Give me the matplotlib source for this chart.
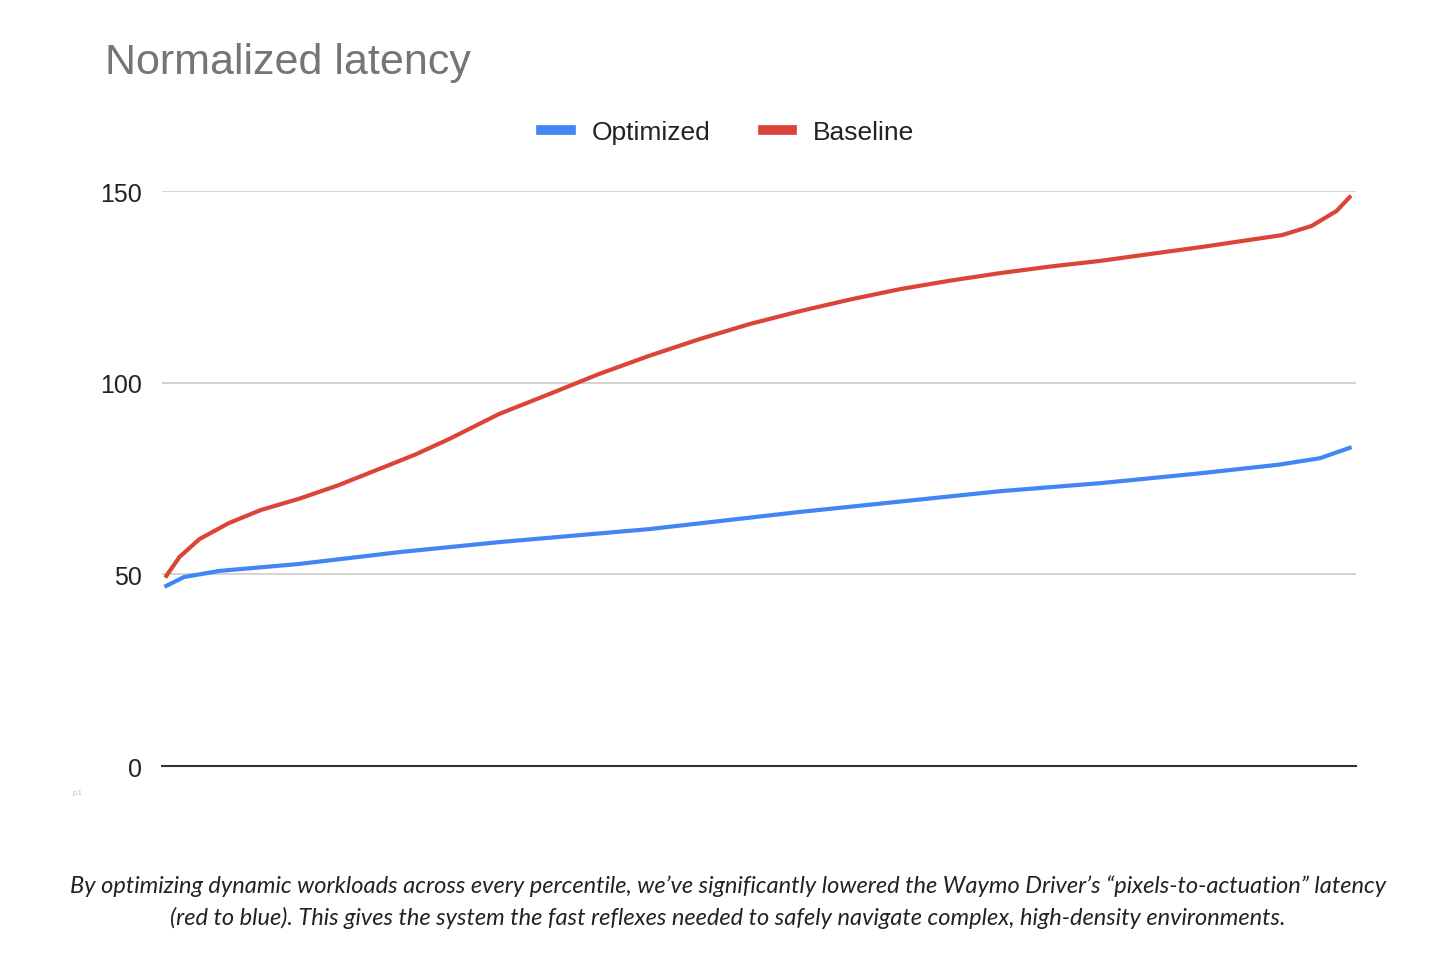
import matplotlib.pyplot as plt

plt.rcParams['font.family'] = ['Liberation Sans', 'DejaVu Sans']

# percentile position (0-100) and normalized latency
red_x = [0, 1.1, 2.8, 5.3, 8.0, 11.2, 14.5, 18.0, 21.0, 23.9, 28.1, 32.5, 36.6, 40.8, 45.1, 49.3, 53.6, 57.8, 62.0, 66.2, 70.5, 74.7, 79.0, 83.2, 87.5, 91.0, 94.3, 96.8, 98.9, 100]
red_y = [49.6, 54.5, 59.2, 63.4, 66.8, 69.7, 73.2, 77.5, 81.2, 85.3, 91.8, 97.2, 102.3, 107.0, 111.4, 115.3, 118.7, 121.7, 124.4, 126.6, 128.6, 130.3, 131.8, 133.6, 135.4, 137.0, 138.5, 140.9, 144.8, 148.4]
blue_x = [0, 1.5, 4.5, 11.2, 19.7, 28.1, 40.8, 53.6, 70.5, 79.0, 87.5, 94.0, 97.5, 100]
blue_y = [47.0, 49.3, 50.9, 52.7, 55.8, 58.4, 61.8, 66.3, 71.7, 73.8, 76.4, 78.6, 80.3, 83.0]

fig = plt.figure(figsize=(14.56, 9.62), dpi=100)
ax = fig.add_axes([0.111, 0.2027, 0.82, 0.5977])
ax.plot(blue_x, blue_y, color='#4285f4', lw=3, label='Optimized')
ax.plot(red_x, red_y, color='#db4437', lw=3, label='Baseline')
ax.set_xlim(-0.4, 100.5)
ax.set_ylim(0, 150)
ax.set_yticks([0, 50, 100, 150])
ax.set_xticks([])
ax.grid(axis='y', color='#cccccc', lw=1.2)
for s in ['top', 'right', 'left']:
    ax.spines[s].set_visible(False)
ax.spines['bottom'].set_color('#333333')
ax.spines['bottom'].set_linewidth(1.5)
ax.tick_params(axis='y', length=0, labelsize=18, pad=14, labelcolor='#222222')
ax.set_axisbelow(True)

fig.text(0.072, 0.935, 'Normalized latency', fontsize=31, color='#757575', va='center')
leg = fig.legend(loc='center', bbox_to_anchor=(0.5, 0.862), ncol=2, frameon=False,
                 fontsize=19, handlelength=1.1, columnspacing=2.0)
for h in leg.get_lines():
    h.set_linewidth(7)
for t in leg.get_texts():
    t.set_color('#222222')
fig.text(0.050, 0.174, 'p.1', fontsize=5, color='#bbbbbb')
fig.text(0.5, 0.062, 'By optimizing dynamic workloads across every percentile, we\u2019ve significantly lowered the Waymo Driver\u2019s \u201cpixels-to-actuation\u201d latency\n(red to blue). This gives the system the fast reflexes needed to safely navigate complex, high-density environments.',
         ha='center', va='center', fontsize=17, style='italic', color='#222222', linespacing=1.55,
         family=['Lato', 'DejaVu Sans'])
fig.savefig('out.png')
